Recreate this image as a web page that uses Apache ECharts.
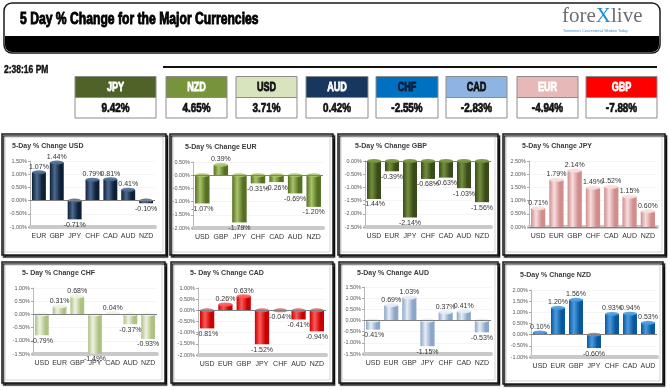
<!DOCTYPE html>
<html><head><meta charset="utf-8">
<script src="https://cdn.jsdelivr.net/npm/echarts@6/dist/echarts.min.js"></script>
<style>html,body{margin:0;padding:0;background:#fff}#c{width:670px;height:390px}</style>
</head><body><div id="c"></div>
<script>
// ---- data ----
const headerTitle = '5 Day % Change for the Major Currencies';
const timeText = '2:38:16 PM';
const rankCurrencies = ['JPY','NZD','USD','AUD','CHF','CAD','EUR','GBP'];
const rankValues = [9.42, 4.65, 3.71, 0.42, -2.55, -2.83, -4.94, -7.88];

const panelTitles = ['5-Day % Change USD','5-Day % Change EUR','5-Day % Change GBP','5-Day % Change JPY',
                     '5- Day % Change CHF','5- Day % Change CAD','5-Day % Change AUD','5-Day % Change NZD'];
const usdCats = ['EUR','GBP','JPY','CHF','CAD','AUD','NZD'];
const usdVals = [1.07, 1.44, -0.71, 0.79, 0.81, 0.41, -0.10];
const eurCats = ['USD','GBP','JPY','CHF','CAD','AUD','NZD'];
const eurVals = [-1.07, 0.39, -1.79, -0.31, -0.26, -0.69, -1.20];
const gbpCats = ['USD','EUR','JPY','CHF','CAD','AUD','NZD'];
const gbpVals = [-1.44, -0.39, -2.14, -0.68, -0.63, -1.03, -1.56];
const jpyCats = ['USD','EUR','GBP','CHF','CAD','AUD','NZD'];
const jpyVals = [0.71, 1.79, 2.14, 1.49, 1.52, 1.15, 0.60];
const chfCats = ['USD','EUR','GBP','JPY','CAD','AUD','NZD'];
const chfVals = [-0.79, 0.31, 0.68, -1.49, 0.04, -0.37, -0.93];
const cadCats = ['USD','EUR','GBP','JPY','CHF','AUD','NZD'];
const cadVals = [-0.81, 0.26, 0.63, -1.52, -0.04, -0.41, -0.94];
const audCats = ['USD','EUR','GBP','JPY','CHF','CAD','NZD'];
const audVals = [-0.41, 0.69, 1.03, -1.15, 0.37, 0.41, -0.53];
const nzdCats = ['USD','EUR','GBP','JPY','CHF','CAD','AUD'];
const nzdVals = [0.10, 1.20, 1.56, -0.60, 0.93, 0.94, 0.53];
const axisMins = [-1, -2, -2.5, 0, -1.5, -2, -1.5, -1];
const axisMaxs = [1.5, 0.5, 0, 2.5, 1, 1, 1.5, 2];
const axisStep = 0.5;

// ---- layout & style ----
const tileBoxes = [[75,81],[166,61],[236,61],[306,62],[376,62],[446,61],[517,61],[586,71]];
const tileColors = ['#4F6228','#77933C','#D7E4BD','#17375E','#0070C0','#8DB4E2','#E6B9B8','#FF0000'];
const tileText = ['#fff','#fff','#111','#fff','#0d1a33','#111','#fff','#fff'];
const frameBoxes = [[2,134,164,121],[170,134,163,121],[338,134,160,121],[503,134,162,121],
                    [2,262,163,121],[171,262,162,121],[339,262,159,121],[503,262,160,122]];
const gridBoxes = [[30,161,125,66],[193,162,130,66],[365,161,126,66],[529,161,128,66],
                   [33,288,124,66],[198,288,128,67],[364,287,127,67],[531,290,126,67]];
const titlePos = [[12,146],[185,147],[355,146],[522,146],[22,273],[190,273],[357,273],[520,275]];
const barColors = [['#0e2038','#4d6a90'],['#556f23','#a9c46a'],['#3a4b1b','#738f3c'],['#d08d8c','#f7dede'],
                   ['#aec283','#eef3e2'],['#c80000','#ff5a5a'],['#8aa6c8','#e6edf6'],['#08589c','#4a9be0']];

const catsList = [usdCats, eurCats, gbpCats, jpyCats, chfCats, cadCats, audCats, nzdCats];
const valsList = [usdVals, eurVals, gbpVals, jpyVals, chfVals, cadVals, audVals, nzdVals];

const SANS = "'Liberation Sans','DejaVu Sans',sans-serif";
const SERIF = "'Liberation Serif','DejaVu Serif',serif";
const pct = v => v.toFixed(2) + '%';

const graphics = [];
// header box
graphics.push({type:'rect', z:-2, shape:{x:4,y:3,width:656,height:50,r:8}, style:{fill:'#fff',stroke:'#1a1a1a',lineWidth:1.5}});
graphics.push({type:'rect', z:-1, shape:{x:5,y:36,width:654,height:16,r:[0,0,7,7]}, style:{fill:'#000'}});
graphics.push({type:'text', x:20, y:20, scaleX:0.76, style:{text:headerTitle, font:'bold 16px ' + SANS, fill:'#000',
  stroke:'#000', lineWidth:0.9, verticalAlign:'middle'}});
graphics.push({type:'text', x:562, y:6, style:{
  text:'{a|fore}{b|X}{a|live}',
  rich:{a:{fontFamily:SERIF, fontSize:21, fill:'#6d6e71'},
        b:{fontFamily:SERIF, fontSize:21, fill:'#1f8fd4'}}}});
graphics.push({type:'text', x:563, y:29, style:{text:"Tomorrow's Conventional Wisdom Today", font:'3.6px ' + SANS, fill:'#3d8fd0'}});
// time + rule
graphics.push({type:'text', x:4, y:70, scaleX:0.85, style:{text:timeText, font:'bold 10px ' + SANS, fill:'#111',
  stroke:'#111', lineWidth:0.4, verticalAlign:'middle'}});
graphics.push({type:'line', shape:{x1:163,y1:67,x2:657,y2:67}, style:{stroke:'#111',lineWidth:2}});
// tiles
rankCurrencies.forEach((c, i) => {
  const [x, w] = tileBoxes[i];
  graphics.push({type:'rect', shape:{x:x,y:76.5,width:w,height:21}, style:{fill:tileColors[i],stroke:'#8c8c8c',lineWidth:1}});
  graphics.push({type:'rect', shape:{x:x,y:97.5,width:w,height:20.5}, style:{fill:'#fff',stroke:'#8c8c8c',lineWidth:1}});
  graphics.push({type:'text', x:x + w/2, y:87.5, scaleX:0.7, style:{text:c, font:'bold 13px ' + SANS, fill:tileText[i],
    stroke:tileText[i], lineWidth:0.8, align:'center', verticalAlign:'middle'}});
  graphics.push({type:'text', x:x + w/2, y:108.5, scaleX:0.76, style:{text:pct(rankValues[i]), font:'bold 13px ' + SANS, fill:'#111',
    stroke:'#111', lineWidth:0.7, align:'center', verticalAlign:'middle'}});
});
// panel frames + titles
frameBoxes.forEach((b, i) => {
  graphics.push({type:'rect', z:-2, shape:{x:b[0],y:b[1],width:b[2],height:b[3]},
    style:{fill:'#fff',stroke:'#1a1a1a',lineWidth:1.5,shadowBlur:1,shadowOffsetX:1.5,shadowOffsetY:2,shadowColor:'rgba(0,0,0,0.85)'}});
  graphics.push({type:'rect', z:-1, shape:{x:b[0]+3,y:b[1]+3,width:b[2]-6,height:b[3]-6}, style:{fill:'none',stroke:'#c8c8c8',lineWidth:0.8}});
  graphics.push({type:'text', x:titlePos[i][0], y:titlePos[i][1], style:{text:panelTitles[i], font:'bold 7px ' + SANS, fill:'#3a3a3a', verticalAlign:'middle'}});
});

const grids = [], xAxes = [], yAxes = [], series = [];
catsList.forEach((cats, i) => {
  const g = gridBoxes[i];
  grids.push({left:g[0], top:g[1], width:g[2], height:g[3], containLabel:false});
  xAxes.push({type:'category', gridIndex:i, data:cats,
    axisLine:{onZero:false, lineStyle:{color:'#c9c9c9', width:4}},
    axisTick:{show:false},
    axisLabel:{interval:0, fontSize:7, color:'#333', margin:6, fontFamily:SANS}});
  yAxes.push({type:'value', gridIndex:i, min:axisMins[i], max:axisMaxs[i], interval:axisStep,
    axisLine:{show:true, lineStyle:{color:'#a6a6a6', width:0.8}},
    axisTick:{show:true, length:2, lineStyle:{color:'#a6a6a6'}},
    splitLine:{lineStyle:{color:'#eeeeee', width:0.6}},
    axisLabel:{fontSize:5.5, color:'#555', margin:3, formatter:pct, fontFamily:SANS}});
  const [dark, light] = barColors[i];
  const grad = () => new echarts.graphic.LinearGradient(0,0,1,0,[
      {offset:0,color:dark},{offset:0.35,color:light},{offset:0.75,color:dark},{offset:1,color:dark}]);
  series.push({type:'bar', xAxisIndex:i, yAxisIndex:i, barCategoryGap:'22%', z:2,
    data: valsList[i].map(v => ({value:v, label:{position: v < 0 ? 'bottom' : 'top'}})),
    itemStyle:{color:grad()},
    label:{show:true, fontSize:7, color:'#333', distance:2, fontFamily:SANS, formatter:p => pct(p.value)},
    markLine:{silent:true, symbol:'none', label:{show:false}, animation:false,
      lineStyle:{color:'#808080', width:1, type:'solid'}, data:[{yAxis:0}]},
    animation:false});
  // cylinder top caps
  series.push({type:'pictorialBar', xAxisIndex:i, yAxisIndex:i, barCategoryGap:'22%', z:3, silent:true,
    symbol:'circle', symbolSize:['100%', 4], symbolOffset:[0,'-50%'],
    data: valsList[i].map(v => ({value:v, symbolPosition: v < 0 ? 'start' : 'end'})),
    itemStyle:{color:light, opacity:0.9},
    animation:false});
});

const chart = echarts.init(document.getElementById('c'));
chart.setOption({animation:false, grid:grids, xAxis:xAxes, yAxis:yAxes, series:series, graphic:{elements:graphics}});
</script></body></html>
